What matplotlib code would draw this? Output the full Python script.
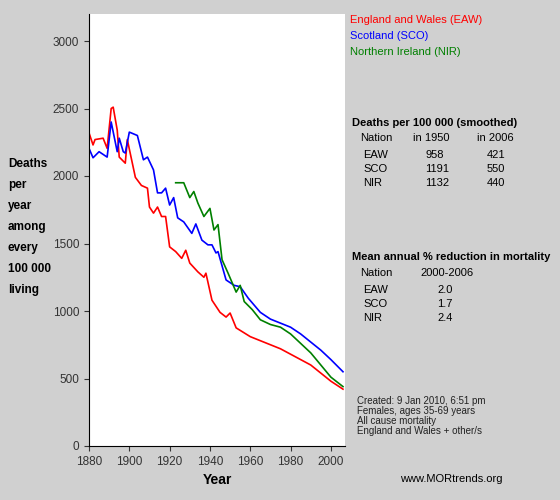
import matplotlib
matplotlib.use("Agg")
import matplotlib.pyplot as plt

plt.rcParams['font.family'] = ['Liberation Sans', 'DejaVu Sans']

eaw_years = [1880,1882,1883,1887,1889,1891,1892,1894,1895,1898,1899,1903,1906,1909,1910,1912,1914,1916,1918,1920,1923,1926,1928,1930,1934,1937,1938,1941,1945,1948,1950,1953,1960,1965,1970,1975,1980,1985,1990,1995,2000,2006]
eaw_vals = [2320,2230,2270,2280,2205,2500,2510,2340,2140,2095,2270,1990,1930,1910,1770,1725,1770,1700,1700,1475,1440,1390,1450,1355,1290,1250,1280,1080,990,955,985,875,810,780,750,720,680,640,600,540,480,421]
sco_years = [1880,1882,1885,1889,1891,1894,1895,1897,1898,1900,1904,1907,1909,1912,1914,1916,1918,1920,1922,1924,1927,1931,1933,1936,1939,1941,1943,1944,1948,1952,1955,1959,1965,1970,1975,1980,1985,1990,1995,2000,2006]
sco_vals = [2205,2135,2180,2140,2400,2180,2280,2180,2170,2325,2300,2120,2140,2045,1875,1875,1910,1785,1840,1690,1660,1575,1645,1525,1490,1490,1430,1440,1230,1190,1180,1095,990,940,910,880,830,770,710,640,550]
nir_years = [1923,1927,1930,1932,1934,1937,1940,1942,1944,1946,1949,1953,1955,1957,1961,1965,1970,1975,1980,1985,1990,1995,2000,2006]
nir_vals = [1950,1950,1840,1885,1800,1700,1760,1600,1640,1380,1280,1140,1190,1070,1010,935,900,880,830,760,690,600,510,440]

bg = "#d0d0d0"
fig = plt.figure(figsize=(5.6, 5.0), dpi=100, facecolor=bg)
ax = fig.add_axes([89/560, 54/500, 256/560, 432/500])
ax.plot(eaw_years, eaw_vals, color="#ff0000", lw=1.2)
ax.plot(sco_years, sco_vals, color="#0000ff", lw=1.2)
ax.plot(nir_years, nir_vals, color="#008000", lw=1.2)
ax.set_xlim(1880, 2007)
ax.set_ylim(0, 3200)
ax.set_xticks(range(1880, 2001, 20))
ax.set_yticks(range(0, 3001, 500))
ax.tick_params(labelsize=8.5, colors="#333333", direction="out")
for s in ["top", "right"]:
    ax.spines[s].set_visible(False)
ax.set_xlabel("Year", fontsize=10, fontweight="bold")

fs = 8
fig.text(8/560, 1-158/500, "Deaths\nper\nyear\namong\nevery\n100 000\nliving", fontsize=8.5, fontweight="bold", va="top", linespacing=2.0)
fig.text(350/560, 1-20/500, "England and Wales (EAW)", color="#ff0000", fontsize=fs, va="center")
fig.text(350/560, 1-36/500, "Scotland (SCO)", color="#0000ff", fontsize=fs, va="center")
fig.text(350/560, 1-52/500, "Northern Ireland (NIR)", color="#008000", fontsize=fs, va="center")

def t(x, y, s, **k):
    fig.text(x/560, 1-y/500, s, fontsize=fs, va="center", **k)
t(352, 123, "Deaths per 100 000 (smoothed)", fontweight="bold")
for x, s in [(360, "Nation"), (413, "in 1950"), (477, "in 2006")]:
    t(x, 138, s)
rows = [("EAW", "958", "421"), ("SCO", "1191", "550"), ("NIR", "1132", "440")]
for i, (n, a, b) in enumerate(rows):
    y = 155 + i*14
    t(363, y, n); t(425, y, a); t(487, y, b)
t(352, 257, "Mean annual % reduction in mortality", fontweight="bold")
t(360, 273, "Nation"); t(420, 273, "2000-2006")
for i, (n, v) in enumerate([("EAW", "2.0"), ("SCO", "1.7"), ("NIR", "2.4")]):
    y = 290 + i*14
    t(363, y, n); t(437, y, v)
fig.text(357/560, 1-396/500, "Created: 9 Jan 2010, 6:51 pm\nFemales, ages 35-69 years\nAll cause mortality\nEngland and Wales + other/s", fontsize=7, va="top", linespacing=1.0, color="#222222")
t(400, 479, "www.MORtrends.org")
fig.savefig("out.png", facecolor=bg)
